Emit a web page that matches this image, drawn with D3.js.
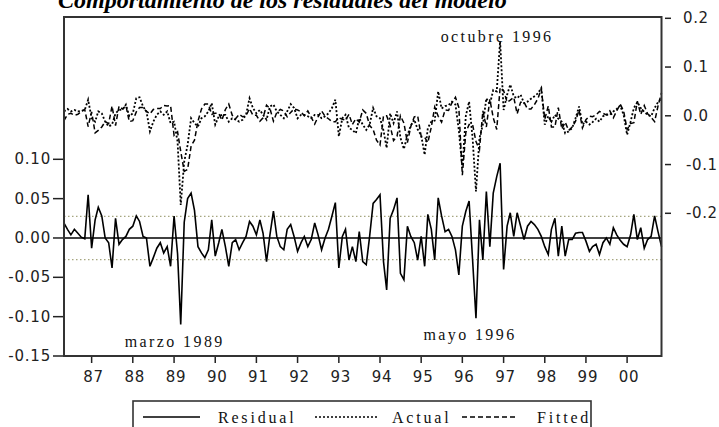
<!DOCTYPE html>
<html><head><meta charset="utf-8">
<script src="https://cdn.jsdelivr.net/npm/d3@7"></script>
<style>body{margin:0;background:#fff;} svg{display:block;}</style>
</head><body>
<svg id="c" width="719" height="427"></svg>
<script>
// Monthly observations, May 1986 .. Nov 2000
const startYear = 1986, startMonth = 4; // May (0-based)
const residual = [
  0.019,0.011,0.004,0.011,0.006,0.001,-0.001,0.055,
  -0.013,0.023,0.039,0.028,0.000,-0.006,-0.038,0.025,-0.008,-0.002,0.002,0.011,
  0.015,0.028,0.021,0.002,0.000,-0.036,-0.025,-0.013,-0.006,-0.019,-0.011,-0.036,
  0.028,-0.020,-0.110,0.020,0.050,0.057,0.035,-0.011,-0.019,-0.025,-0.015,0.023,
  -0.023,-0.006,0.011,-0.011,-0.036,-0.006,-0.002,-0.015,-0.006,0.002,0.021,0.015,
  0.004,0.023,0.006,-0.030,0.004,0.034,0.002,-0.011,-0.015,0.011,0.017,0.002,
  -0.017,-0.006,0.002,-0.011,-0.002,0.019,0.004,-0.015,0.000,0.011,0.028,0.045,
  -0.038,0.002,0.011,-0.028,-0.011,-0.030,0.008,-0.030,-0.034,0.002,0.044,0.049,
  0.055,-0.030,-0.066,0.025,0.036,0.051,-0.045,-0.053,0.015,0.002,-0.006,-0.028,
  0.002,-0.036,0.030,0.011,-0.028,0.051,0.028,0.008,0.011,0.002,-0.015,-0.047,
  0.015,0.034,0.047,-0.028,-0.102,0.023,-0.028,0.059,-0.011,0.057,0.078,0.095,
  -0.040,0.015,0.032,0.002,0.032,0.015,-0.002,0.015,0.021,0.017,0.011,0.002,
  -0.011,-0.021,0.011,0.025,-0.023,0.015,-0.023,-0.002,-0.002,0.006,0.007,0.007,
  -0.004,-0.017,-0.011,-0.008,-0.021,-0.006,0.000,-0.008,0.013,0.004,-0.003,-0.008,
  -0.011,0.004,0.030,-0.002,0.013,-0.013,-0.002,0.002,0.028,0.008,-0.011
];
const actual = [
  0.009,0.014,0.009,0.012,0.009,0.010,0.012,0.033,
  -0.005,-0.012,0.009,0.005,-0.012,-0.022,-0.018,0.005,0.012,0.012,0.023,-0.001,
  0.005,0.036,0.038,0.019,0.009,-0.032,-0.012,0.002,0.009,0.002,0.009,-0.015,
  -0.012,-0.053,-0.183,-0.094,-0.060,-0.005,-0.015,-0.022,-0.005,-0.001,0.009,0.026,
  -0.018,-0.001,0.002,0.002,-0.012,-0.005,-0.008,-0.012,-0.008,0.002,0.036,0.016,
  0.005,0.012,0.002,-0.008,0.019,0.023,0.009,0.002,-0.005,0.009,0.024,0.016,
  -0.005,0.002,0.002,-0.001,-0.005,0.002,0.002,-0.005,-0.001,0.005,0.016,0.033,
  -0.042,-0.005,0.002,-0.025,-0.029,-0.036,-0.005,-0.018,-0.029,-0.018,0.016,-0.001,
  -0.005,-0.030,-0.066,0.005,-0.015,0.009,-0.045,-0.068,-0.040,-0.020,-0.008,-0.028,
  -0.040,-0.080,-0.025,-0.012,-0.010,0.050,0.015,0.020,0.022,0.029,0.023,-0.030,
  -0.107,0.000,0.029,-0.046,-0.155,-0.046,-0.018,0.036,0.023,0.053,0.050,0.153,
  0.012,0.043,0.064,0.040,0.036,0.043,0.026,0.029,0.035,0.040,0.046,0.057,
  -0.018,-0.001,-0.012,0.002,-0.006,-0.012,-0.036,-0.032,-0.025,-0.005,0.019,-0.018,
  -0.012,-0.018,-0.013,-0.006,-0.012,-0.001,0.002,0.002,0.009,0.014,0.021,0.002,
  -0.039,-0.012,0.016,0.028,0.016,0.008,0.002,-0.001,0.016,0.028,0.036
];
const fitted = [
  -0.010,0.003,0.005,0.001,0.003,0.009,0.013,-0.022,
  0.008,-0.035,-0.030,-0.023,-0.012,-0.016,0.020,-0.020,0.020,0.014,0.021,-0.012,
  -0.010,0.008,0.017,0.017,0.009,0.004,0.013,0.015,0.015,0.021,0.020,0.021,
  -0.040,-0.033,-0.073,-0.114,-0.110,-0.062,-0.050,-0.011,0.014,0.024,0.024,0.003,
  0.005,0.005,-0.009,0.013,0.024,0.001,-0.006,0.003,-0.002,0.000,0.015,0.001,
  0.001,-0.011,-0.004,0.022,0.015,-0.011,0.007,0.013,0.010,-0.002,0.007,0.014,
  0.012,0.008,0.000,0.010,-0.003,-0.017,-0.002,0.010,-0.001,-0.006,-0.012,-0.012,
  -0.004,-0.007,-0.009,0.003,-0.018,-0.006,-0.013,0.012,0.005,-0.020,-0.028,-0.050,
  -0.060,0.000,0.000,-0.020,-0.051,-0.042,0.000,-0.015,-0.055,-0.022,-0.002,0.000,
  -0.042,-0.044,-0.055,-0.023,0.018,-0.001,-0.013,0.012,0.011,0.027,0.038,0.017,
  -0.122,-0.034,-0.018,-0.018,-0.053,-0.069,0.010,-0.023,0.034,-0.004,-0.028,0.058,
  0.052,0.028,0.032,0.038,0.004,0.028,0.028,0.014,0.014,0.023,0.035,0.055,
  -0.007,0.020,-0.023,-0.023,0.017,-0.027,-0.013,-0.030,-0.023,-0.011,0.012,-0.025,
  -0.008,-0.001,-0.002,0.002,0.009,0.005,0.002,0.010,-0.004,0.010,0.024,0.010,
  -0.028,-0.016,-0.014,0.030,0.003,0.021,0.004,-0.003,-0.012,0.020,0.047
];
const seBand = [0.0275, -0.0275];
const leftTicks = [-0.15, -0.10, -0.05, 0.00, 0.05, 0.10];
const rightTicks = [-0.2, -0.1, 0.0, 0.1, 0.2];
const yearTicks = [1987,1988,1989,1990,1991,1992,1993,1994,1995,1996,1997,1998,1999,2000];
const legendItems = ["Residual", "Actual", "Fitted"];
const annotations = [
  {text: "octubre 1996", index: 127, series: "actual"},
  {text: "marzo 1989", index: 34, series: "residual"},
  {text: "mayo 1996", index: 120, series: "residual"}
];
const title = "Comportamiento de los residuales del modelo";

const svg = d3.select("#c");
const L = 64, R = 661.5, T = 17, B = 356;
const dateOf = i => new Date(startYear, startMonth + i, 1);
const n = residual.length;
const x = d3.scaleTime().domain([dateOf(0), dateOf(n - 1)]).range([L, R]);
const yL = d3.scaleLinear().domain([-0.15, 0.10]).range([B, 159.3]);
const yR = d3.scaleLinear().domain([-0.2, 0.2]).range([213.3, 18.3]);

const loc = d3.formatLocale({decimal: ".", thousands: ",", grouping: [3], currency: ["", ""], minus: "-"});
const f2 = loc.format(".2f"), f1 = loc.format(".1f");

const sansFont = "'DejaVu Sans', Verdana, sans-serif";
const serifFont = "'Liberation Serif', 'Times New Roman', serif";

// title (partially cut at top)
svg.append("text").attr("x", 58).attr("y", 8)
  .attr("font-family", serifFont).attr("font-size", 24)
  .attr("font-style", "italic").attr("font-weight", "bold")
  .attr("fill", "#000").text(title);

// SE band lines & zero line
svg.selectAll("line.se").data(seBand).enter().append("line")
  .attr("x1", L).attr("x2", R).attr("y1", d => yL(d)).attr("y2", d => yL(d))
  .attr("stroke", "#a6a680").attr("stroke-width", 1.2).attr("stroke-dasharray", "1.5,2.5");
svg.append("line").attr("x1", L).attr("x2", R).attr("y1", yL(0)).attr("y2", yL(0))
  .attr("stroke", "#000").attr("stroke-width", 1.6);

const idx = d3.range(n);
const lineL = arr => d3.line().x(i => x(dateOf(i))).y(i => yL(arr[i]))(idx);
const lineR = arr => d3.line().x(i => x(dateOf(i))).y(i => yR(arr[i]))(idx);

svg.append("path").attr("d", lineR(fitted)).attr("fill", "none")
  .attr("stroke", "#000").attr("stroke-width", 1.5).attr("stroke-dasharray", "5,3");
svg.append("path").attr("d", lineR(actual)).attr("fill", "none")
  .attr("stroke", "#000").attr("stroke-width", 1.8).attr("stroke-dasharray", "2,2");
svg.append("path").attr("d", lineL(residual)).attr("fill", "none")
  .attr("stroke", "#000").attr("stroke-width", 1.6).attr("stroke-linejoin", "miter");

// frame
svg.append("rect").attr("x", L).attr("y", T).attr("width", R - L).attr("height", B - T)
  .attr("fill", "none").attr("stroke", "#333").attr("stroke-width", 2);

// left axis
const gl = svg.append("g");
leftTicks.forEach(t => {
  gl.append("line").attr("x1", 53).attr("x2", L - 1).attr("y1", yL(t)).attr("y2", yL(t))
    .attr("stroke", "#222").attr("stroke-width", 1.5);
  gl.append("text").attr("x", 51).attr("y", yL(t) + 5).attr("text-anchor", "end")
    .attr("font-family", sansFont).attr("font-size", 15).attr("letter-spacing", 0.8)
    .attr("fill", "#222").text(f2(t));
});
// right axis
const gr = svg.append("g");
rightTicks.forEach(t => {
  gr.append("line").attr("x1", 665).attr("x2", 671).attr("y1", yR(t)).attr("y2", yR(t))
    .attr("stroke", "#222").attr("stroke-width", 1.5);
  gr.append("text").attr("x", t < 0 ? 686 : 683).attr("y", yR(t) + 5)
    .attr("font-family", sansFont).attr("font-size", 15).attr("letter-spacing", 0.6)
    .attr("fill", "#222").text(f1(t));
});
// bottom axis
const gb = svg.append("g");
yearTicks.forEach(yr => {
  const xx = x(new Date(yr, 0, 1));
  gb.append("line").attr("x1", xx).attr("x2", xx).attr("y1", B + 1).attr("y2", 363)
    .attr("stroke", "#222").attr("stroke-width", 1.5);
  gb.append("text").attr("x", xx + 2).attr("y", 382).attr("text-anchor", "middle")
    .attr("font-family", sansFont).attr("font-size", 15).attr("letter-spacing", 0.8)
    .attr("fill", "#222").text(d3.timeFormat("%y")(new Date(yr, 0, 1)));
});

// annotations
annotations.forEach(a => {
  const xx = x(dateOf(a.index));
  let yy, dx, dy;
  if (a.series === "actual") { yy = yR(actual[a.index]); dx = -3; dy = 1; }
  else { yy = yL(residual[a.index]); dx = -6; dy = 22; }
  svg.append("text").attr("x", xx + dx).attr("y", yy + dy).attr("text-anchor", "middle")
    .attr("font-family", serifFont).attr("font-size", 16).attr("letter-spacing", 2.4)
    .attr("fill", "#111").text(a.text);
});

// legend
svg.append("rect").attr("x", 133).attr("y", 401).attr("width", 458).attr("height", 40)
  .attr("fill", "#fff").attr("stroke", "#333").attr("stroke-width", 1.6);
const legY = 417;
const legSpec = [
  {x1: 143, x2: 200, tx: 218, dash: null, w: 1.5},
  {x1: 315, x2: 378, tx: 392, dash: "2,2", w: 1.5},
  {x1: 462, x2: 517, tx: 537, dash: "5,3", w: 1.4}
];
legendItems.forEach((name, k) => {
  const s = legSpec[k];
  const ln = svg.append("line").attr("x1", s.x1).attr("x2", s.x2).attr("y1", legY).attr("y2", legY)
    .attr("stroke", "#000").attr("stroke-width", s.w);
  if (s.dash) ln.attr("stroke-dasharray", s.dash);
  svg.append("text").attr("x", s.tx).attr("y", 423)
    .attr("font-family", serifFont).attr("font-size", 16).attr("letter-spacing", 2.8)
    .attr("fill", "#111").text(name);
});
</script>
</body></html>
